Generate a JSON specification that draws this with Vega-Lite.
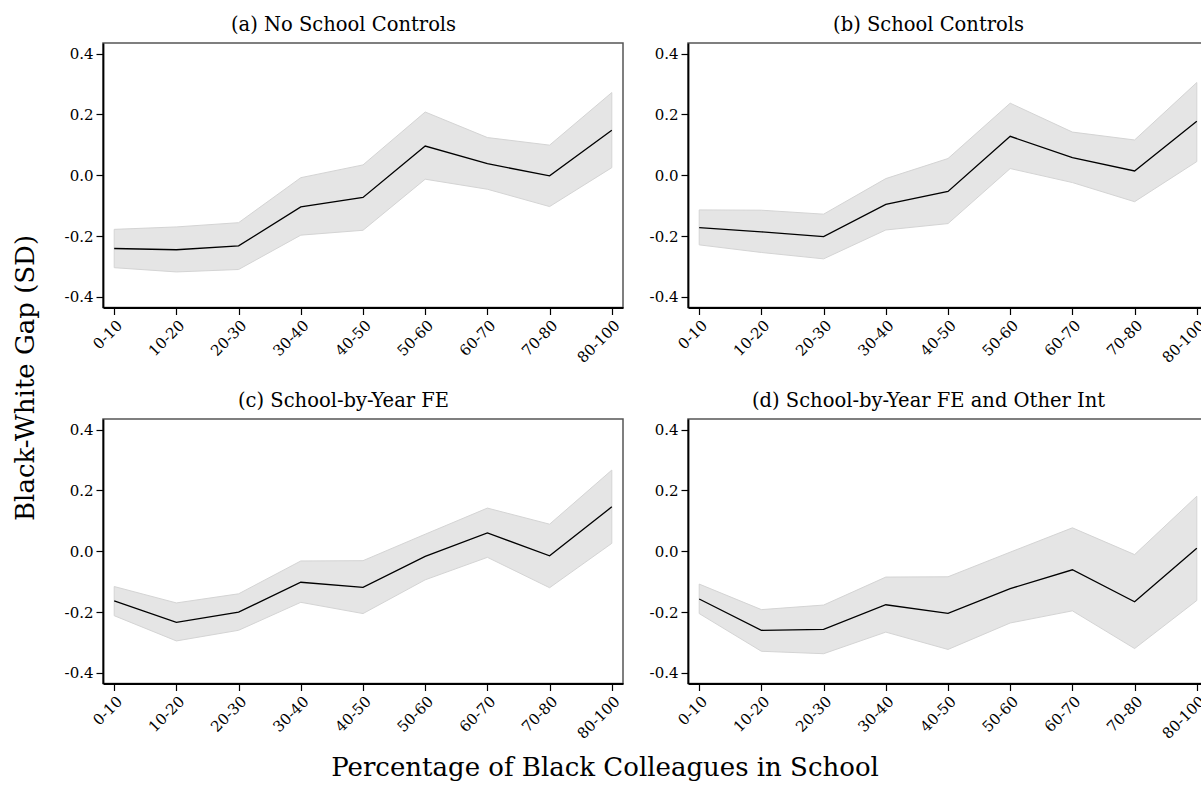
{
  "$schema": "https://vega.github.io/schema/vega-lite/v6.json",
  "background": "white",
  "padding": {"left": 13, "top": 13, "right": 0, "bottom": 0},
  "config": {
    "font": "DejaVu Serif",
    "view": {"stroke": "#555555", "strokeWidth": 1.5},
    "axis": {
      "grid": false,
      "title": null,
      "labelFont": "DejaVu Serif",
      "labelFontSize": 15,
      "labelColor": "black",
      "domainColor": "black",
      "domainWidth": 1.8,
      "tickColor": "black",
      "tickWidth": 1.2,
      "tickSize": 7,
      "labelPadding": 3
    },
    "title": {"font": "DejaVu Serif", "fontWeight": "normal", "color": "black"}
  },
  "datasets": {
    "gap": [
      {"panel": "a", "bin": "0-10", "est": -0.241, "lo": -0.304, "hi": -0.178},
      {"panel": "a", "bin": "10-20", "est": -0.245, "lo": -0.318, "hi": -0.170},
      {"panel": "a", "bin": "20-30", "est": -0.232, "lo": -0.310, "hi": -0.156},
      {"panel": "a", "bin": "30-40", "est": -0.104, "lo": -0.197, "hi": -0.008},
      {"panel": "a", "bin": "40-50", "est": -0.073, "lo": -0.181, "hi": 0.034},
      {"panel": "a", "bin": "50-60", "est": 0.096, "lo": -0.013, "hi": 0.208},
      {"panel": "a", "bin": "60-70", "est": 0.038, "lo": -0.046, "hi": 0.124},
      {"panel": "a", "bin": "70-80", "est": -0.002, "lo": -0.103, "hi": 0.099},
      {"panel": "a", "bin": "80-100", "est": 0.148, "lo": 0.025, "hi": 0.272},
      {"panel": "b", "bin": "0-10", "est": -0.172, "lo": -0.229, "hi": -0.114},
      {"panel": "b", "bin": "10-20", "est": -0.186, "lo": -0.254, "hi": -0.115},
      {"panel": "b", "bin": "20-30", "est": -0.202, "lo": -0.275, "hi": -0.128},
      {"panel": "b", "bin": "30-40", "est": -0.096, "lo": -0.180, "hi": -0.011},
      {"panel": "b", "bin": "40-50", "est": -0.053, "lo": -0.159, "hi": 0.055},
      {"panel": "b", "bin": "50-60", "est": 0.128, "lo": 0.022, "hi": 0.237},
      {"panel": "b", "bin": "60-70", "est": 0.058, "lo": -0.024, "hi": 0.142},
      {"panel": "b", "bin": "70-80", "est": 0.014, "lo": -0.087, "hi": 0.116},
      {"panel": "b", "bin": "80-100", "est": 0.178, "lo": 0.045, "hi": 0.305},
      {"panel": "c", "bin": "0-10", "est": -0.163, "lo": -0.212, "hi": -0.116},
      {"panel": "c", "bin": "10-20", "est": -0.234, "lo": -0.295, "hi": -0.170},
      {"panel": "c", "bin": "20-30", "est": -0.200, "lo": -0.260, "hi": -0.140},
      {"panel": "c", "bin": "30-40", "est": -0.102, "lo": -0.168, "hi": -0.032},
      {"panel": "c", "bin": "40-50", "est": -0.119, "lo": -0.205, "hi": -0.031},
      {"panel": "c", "bin": "50-60", "est": -0.017, "lo": -0.094, "hi": 0.056},
      {"panel": "c", "bin": "60-70", "est": 0.060, "lo": -0.020, "hi": 0.142},
      {"panel": "c", "bin": "70-80", "est": -0.015, "lo": -0.120, "hi": 0.089},
      {"panel": "c", "bin": "80-100", "est": 0.146, "lo": 0.026, "hi": 0.267},
      {"panel": "d", "bin": "0-10", "est": -0.157, "lo": -0.205, "hi": -0.108},
      {"panel": "d", "bin": "10-20", "est": -0.260, "lo": -0.329, "hi": -0.192},
      {"panel": "d", "bin": "20-30", "est": -0.257, "lo": -0.337, "hi": -0.177},
      {"panel": "d", "bin": "30-40", "est": -0.176, "lo": -0.266, "hi": -0.085},
      {"panel": "d", "bin": "40-50", "est": -0.204, "lo": -0.323, "hi": -0.084},
      {"panel": "d", "bin": "50-60", "est": -0.123, "lo": -0.236, "hi": -0.003},
      {"panel": "d", "bin": "60-70", "est": -0.061, "lo": -0.196, "hi": 0.077},
      {"panel": "d", "bin": "70-80", "est": -0.166, "lo": -0.320, "hi": -0.011},
      {"panel": "d", "bin": "80-100", "est": 0.010, "lo": -0.162, "hi": 0.181}
    ]
  },
  "data": {"name": "gap"},
  "title": {"text": "Percentage of Black Colleagues in School", "orient": "bottom", "anchor": "middle", "frame": "bounds", "fontSize": 26, "offset": 13, "dx": -6},
  "vconcat": [
    {
      "title": {"text": "Black-White Gap (SD)", "orient": "left", "anchor": "middle", "frame": "bounds", "fontSize": 26, "offset": 24},
      "spacing": 22,
      "vconcat": [
        {
          "spacing": 24,
          "hconcat": [
            {
              "title": {"text": "(a) No School Controls", "fontSize": 19.5, "frame": "bounds", "anchor": "middle", "offset": 8},
              "width": 520, "height": 264.5,
              "transform": [{"filter": "datum.panel == 'a'"}],
              "encoding": {
                "x": {"field": "bin", "type": "ordinal", "scale": {"type": "point", "padding": 0.18, "domain": ["0-10","10-20","20-30","30-40","40-50","50-60","60-70","70-80","80-100"]}, "axis": {"labelAngle": -45}}
              },
              "layer": [
                {"mark": {"type": "rule", "color": "#444444", "strokeWidth": 1.3, "strokeDash": [13, 7]}, "encoding": {"y": {"datum": 0, "type": "quantitative", "scale": {"domain": [-0.435, 0.435], "nice": false, "zero": false}, "axis": {"values": [-0.4, -0.2, 0, 0.2, 0.4], "labelExpr": "replace(format(datum.value, '.1f'), '\u2212', '-')"}}}},
                {"mark": {"type": "area", "fill": "#bebebe", "fillOpacity": 0.4, "stroke": "#d4d4d4", "strokeWidth": 1}, "encoding": {"y": {"field": "lo", "type": "quantitative"}, "y2": {"field": "hi"}}},
                {"mark": {"type": "line", "color": "black", "strokeWidth": 1.3}, "encoding": {"y": {"field": "est", "type": "quantitative"}}}
              ]
            },
            {
              "title": {"text": "(b) School Controls", "fontSize": 19.5, "frame": "bounds", "anchor": "middle", "offset": 8},
              "width": 520, "height": 264.5,
              "transform": [{"filter": "datum.panel == 'b'"}],
              "encoding": {
                "x": {"field": "bin", "type": "ordinal", "scale": {"type": "point", "padding": 0.18, "domain": ["0-10","10-20","20-30","30-40","40-50","50-60","60-70","70-80","80-100"]}, "axis": {"labelAngle": -45}}
              },
              "layer": [
                {"mark": {"type": "rule", "color": "#444444", "strokeWidth": 1.3, "strokeDash": [13, 7]}, "encoding": {"y": {"datum": 0, "type": "quantitative", "scale": {"domain": [-0.435, 0.435], "nice": false, "zero": false}, "axis": {"values": [-0.4, -0.2, 0, 0.2, 0.4], "labelExpr": "replace(format(datum.value, '.1f'), '\u2212', '-')"}}}},
                {"mark": {"type": "area", "fill": "#bebebe", "fillOpacity": 0.4, "stroke": "#d4d4d4", "strokeWidth": 1}, "encoding": {"y": {"field": "lo", "type": "quantitative"}, "y2": {"field": "hi"}}},
                {"mark": {"type": "line", "color": "black", "strokeWidth": 1.3}, "encoding": {"y": {"field": "est", "type": "quantitative"}}}
              ]
            }
          ]
        },
        {
          "spacing": 24,
          "hconcat": [
            {
              "title": {"text": "(c) School-by-Year FE", "fontSize": 19.5, "frame": "bounds", "anchor": "middle", "offset": 8},
              "width": 520, "height": 264.5,
              "transform": [{"filter": "datum.panel == 'c'"}],
              "encoding": {
                "x": {"field": "bin", "type": "ordinal", "scale": {"type": "point", "padding": 0.18, "domain": ["0-10","10-20","20-30","30-40","40-50","50-60","60-70","70-80","80-100"]}, "axis": {"labelAngle": -45}}
              },
              "layer": [
                {"mark": {"type": "rule", "color": "#444444", "strokeWidth": 1.3, "strokeDash": [13, 7]}, "encoding": {"y": {"datum": 0, "type": "quantitative", "scale": {"domain": [-0.435, 0.435], "nice": false, "zero": false}, "axis": {"values": [-0.4, -0.2, 0, 0.2, 0.4], "labelExpr": "replace(format(datum.value, '.1f'), '\u2212', '-')"}}}},
                {"mark": {"type": "area", "fill": "#bebebe", "fillOpacity": 0.4, "stroke": "#d4d4d4", "strokeWidth": 1}, "encoding": {"y": {"field": "lo", "type": "quantitative"}, "y2": {"field": "hi"}}},
                {"mark": {"type": "line", "color": "black", "strokeWidth": 1.3}, "encoding": {"y": {"field": "est", "type": "quantitative"}}}
              ]
            },
            {
              "title": {"text": "(d) School-by-Year FE and Other Int", "fontSize": 19.5, "frame": "bounds", "anchor": "middle", "offset": 8},
              "width": 520, "height": 264.5,
              "transform": [{"filter": "datum.panel == 'd'"}],
              "encoding": {
                "x": {"field": "bin", "type": "ordinal", "scale": {"type": "point", "padding": 0.18, "domain": ["0-10","10-20","20-30","30-40","40-50","50-60","60-70","70-80","80-100"]}, "axis": {"labelAngle": -45}}
              },
              "layer": [
                {"mark": {"type": "rule", "color": "#444444", "strokeWidth": 1.3, "strokeDash": [13, 7]}, "encoding": {"y": {"datum": 0, "type": "quantitative", "scale": {"domain": [-0.435, 0.435], "nice": false, "zero": false}, "axis": {"values": [-0.4, -0.2, 0, 0.2, 0.4], "labelExpr": "replace(format(datum.value, '.1f'), '\u2212', '-')"}}}},
                {"mark": {"type": "area", "fill": "#bebebe", "fillOpacity": 0.4, "stroke": "#d4d4d4", "strokeWidth": 1}, "encoding": {"y": {"field": "lo", "type": "quantitative"}, "y2": {"field": "hi"}}},
                {"mark": {"type": "line", "color": "black", "strokeWidth": 1.3}, "encoding": {"y": {"field": "est", "type": "quantitative"}}}
              ]
            }
          ]
        }
      ]
    }
  ]
}
